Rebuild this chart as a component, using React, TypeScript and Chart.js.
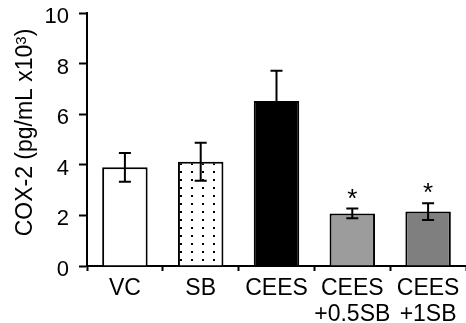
import React, { useEffect, useRef } from "react";
import { Chart, registerables } from "chart.js";

Chart.register(...registerables);

const categories: (string | string[])[] = ["VC", "SB", "CEES", ["CEES", "+0.5SB"], ["CEES", "+1SB"]];
const values = [3.9, 4.12, 6.52, 2.08, 2.15];
const errors = [0.57, 0.75, 1.2, 0.19, 0.33];
const significant = [false, false, false, true, true];
const yTicks = [0, 2, 4, 6, 8, 10];
const yTitleMain = "COX-2 (pg/mL x10";
const yTitleSup = "3";
const yTitleEnd = ")";

const FONT = "'Liberation Sans', Arial, sans-serif";

function makeDotPattern(): CanvasPattern | string {
  const c = document.createElement("canvas");
  c.width = 11;
  c.height = 8;
  const ctx = c.getContext("2d");
  if (!ctx) return "#ffffff";
  ctx.fillStyle = "#ffffff";
  ctx.fillRect(0, 0, 11, 8);
  ctx.fillStyle = "#000000";
  ctx.fillRect(4, 3, 2, 2);
  const p = ctx.createPattern(c, "repeat");
  return p || "#ffffff";
}

const errorBarPlugin = {
  id: "errorBars",
  afterDatasetsDraw(chart: any) {
    const ctx = chart.ctx;
    const meta = chart.getDatasetMeta(0);
    const y = chart.scales.y;
    ctx.save();
    ctx.strokeStyle = "#000";
    ctx.lineWidth = 2;
    meta.data.forEach((bar: any, i: number) => {
      const x = bar.x;
      const top = y.getPixelForValue(values[i] + errors[i]);
      const bot = y.getPixelForValue(values[i] - errors[i]);
      const half = 6;
      ctx.beginPath();
      ctx.moveTo(x, top);
      ctx.lineTo(x, bot);
      ctx.moveTo(x - half, top);
      ctx.lineTo(x + half, top);
      ctx.moveTo(x - half, bot);
      ctx.lineTo(x + half, bot);
      ctx.stroke();
      if (significant[i]) {
        ctx.fillStyle = "#000";
        ctx.font = `26px ${FONT}`;
        ctx.textAlign = "center";
        ctx.textBaseline = "middle";
        ctx.fillText("*", x, top - 9);
      }
    });
    ctx.restore();
  },
};

const yTitlePlugin = {
  id: "yTitleSup",
  afterDraw(chart: any) {
    const ctx = chart.ctx;
    const area = chart.chartArea;
    const mainFont = `23px ${FONT}`;
    const supFont = `15px ${FONT}`;
    ctx.save();
    ctx.font = mainFont;
    const w1 = ctx.measureText(yTitleMain).width;
    const w3 = ctx.measureText(yTitleEnd).width;
    ctx.font = supFont;
    const w2 = ctx.measureText(yTitleSup).width;
    const total = w1 + w2 + w3;
    const cy = (area.top + area.bottom) / 2 - 7;
    ctx.translate(32, cy + total / 2);
    ctx.rotate(-Math.PI / 2);
    ctx.fillStyle = "#000";
    ctx.textAlign = "left";
    ctx.textBaseline = "alphabetic";
    ctx.font = mainFont;
    ctx.fillText(yTitleMain, 0, 0);
    ctx.font = supFont;
    ctx.fillText(yTitleSup, w1, -6);
    ctx.font = mainFont;
    ctx.fillText(yTitleEnd, w1 + w2, 0);
    ctx.restore();
  },
};

export default function App() {
  const ref = useRef<HTMLCanvasElement>(null);
  useEffect(() => {
    if (!ref.current) return;
    const dots = makeDotPattern();
    const chart = new Chart(ref.current, {
      type: "bar",
      data: {
        labels: categories as any,
        datasets: [
          {
            data: values,
            backgroundColor: ["#ffffff", dots as any, "#000000", "#9c9c9c", "#7f7f7f"],
            borderColor: "#000000",
            borderWidth: 2,
            barPercentage: 0.6,
            categoryPercentage: 1,
          },
        ],
      },
      options: {
        responsive: false,
        animation: false,
        layout: { padding: { top: 13, right: -2, bottom: 0, left: 0 } },
        plugins: { legend: { display: false }, tooltip: { enabled: false } },
        scales: {
          x: {
            offset: true,
            grid: {
              offset: true,
              drawOnChartArea: false,
              drawTicks: true,
              tickLength: 5,
              tickColor: "#000",
              tickWidth: 2,
            },
            border: { color: "#000", width: 2 },
            ticks: {
              color: "#000",
              font: { family: FONT, size: 23, lineHeight: 1.13 },
              padding: 5,
              maxRotation: 0,
              autoSkip: false,
            },
            afterFit(scale: any) {
              scale.height = 57;
            },
          },
          y: {
            min: 0,
            max: 10,
            afterBuildTicks(scale: any) {
              scale.ticks = yTicks.map((v) => ({ value: v }));
            },
            grid: {
              drawOnChartArea: false,
              tickLength: 8,
              tickColor: "#000",
              tickWidth: 2,
            },
            border: { color: "#000", width: 2 },
            ticks: {
              color: "#000",
              font: { family: FONT, size: 22, lineHeight: 0.1 },
              padding: 10,
              labelOffset: 4,
            },
            title: { display: false },
            afterFit(scale: any) {
              scale.width = 87;
            },
          },
        },
      },
      plugins: [errorBarPlugin, yTitlePlugin],
    });
    return () => chart.destroy();
  }, []);
  return (
    <div style={{ position: "absolute", left: 0, top: 0, width: 466, height: 323, background: "#fff" }}>
      <canvas ref={ref} width={466} height={323} style={{ width: 466, height: 323 }} />
    </div>
  );
}
